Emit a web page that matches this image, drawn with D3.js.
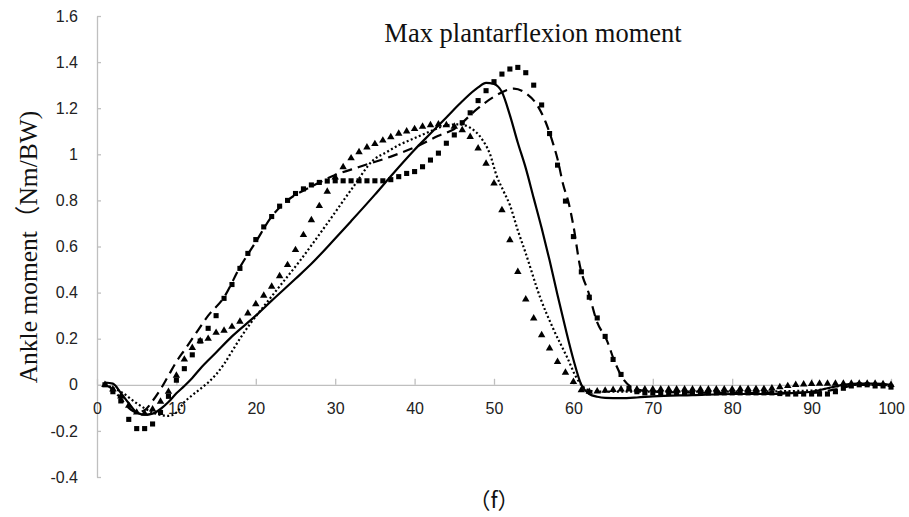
<!DOCTYPE html>
<html>
<head>
<meta charset="utf-8">
<script src="https://cdn.jsdelivr.net/npm/d3@7"></script>
<style>
  html, body { margin: 0; padding: 0; background: #fff; }
  svg { display: block; }
</style>
</head>
<body>
<svg id="chart" width="909" height="517"></svg>
<script>
// ---------- data ----------
const titleText = "Max plantarflexion moment";
const yTitle = "Ankle moment（Nm/BW)";
const panelLabel = "（f）";
const xTicks = [0, 10, 20, 30, 40, 50, 60, 70, 80, 90, 100];
const yTicks = [-0.4, -0.2, 0, 0.2, 0.4, 0.6, 0.8, 1, 1.2, 1.4, 1.6];

// solid line
const solidX = [1,2,3,4,5,6,7,8,9,10,11,12,13,15,17,20,22,25,27,30,32,35,37,40,42,44,46,48,49,50,51,52,53,54,55,56,57,58,59,60,61,62,63,64,66,68,70,75,80,85,88,90,92,94,96,98,100];
const solidY = [0.01,0.005,-0.035,-0.08,-0.12,-0.13,-0.125,-0.105,-0.075,-0.037,-0.005,0.03,0.07,0.14,0.21,0.30,0.365,0.46,0.525,0.635,0.71,0.825,0.905,1.02,1.09,1.16,1.23,1.29,1.31,1.305,1.27,1.17,1.05,0.94,0.81,0.68,0.54,0.39,0.245,0.11,0.0,-0.04,-0.052,-0.057,-0.058,-0.055,-0.05,-0.045,-0.04,-0.04,-0.035,-0.03,-0.015,0.0,0.005,0.005,0.0];

// dashed line
const dashX = [1,2,3,4,5,6,7,8,9,10,11,12,14,16,18,20,22,24,27,30,33,37,40,43,45,48,50,52.5,54,55.5,56.5,57.5,58,58.7,59.4,60,60.8,62,62.9,64.2,65.2,66.1,67.2,68,70,80,90,93,96,100];
const dashY = [0,-0.02,-0.06,-0.1,-0.12,-0.11,-0.07,-0.02,0.04,0.10,0.15,0.20,0.30,0.38,0.51,0.62,0.73,0.80,0.86,0.91,0.945,0.99,1.03,1.08,1.11,1.20,1.25,1.285,1.265,1.21,1.14,1.04,0.98,0.87,0.79,0.69,0.52,0.39,0.28,0.194,0.10,0.035,-0.008,-0.02,-0.03,-0.035,-0.035,-0.02,0,0];

// dotted line
const dotX = [1,3,5,7,9,10,11,12,13,14,15,16,17,18,19.3,21,22.6,25.6,29,32.3,34.8,36.5,38,40,42,44,45.5,47,48.4,49.5,50.3,51.2,52,53,54,55.8,57.5,59.2,60.4,61.7,63,70,80,90,95,100];
const dotY = [0,-0.03,-0.08,-0.12,-0.135,-0.12,-0.075,-0.045,-0.018,0.01,0.045,0.09,0.145,0.2,0.265,0.34,0.41,0.54,0.70,0.86,0.975,1.01,1.04,1.07,1.10,1.125,1.13,1.115,1.07,1.0,0.91,0.84,0.78,0.67,0.57,0.38,0.24,0.12,0.03,-0.02,-0.03,-0.03,-0.03,-0.025,0,0];

// square markers, x = 1..100
const squareY = [0.00,-0.03,-0.07,-0.15,-0.19,-0.19,-0.17,-0.12,-0.05,0.02,
  0.07,0.13,0.19,0.245,0.30,0.375,0.435,0.505,0.57,0.63,
  0.685,0.73,0.775,0.80,0.83,0.85,0.867,0.878,0.884,0.885,
  0.885,0.885,0.885,0.885,0.885,0.885,0.89,0.903,0.917,0.925,
  0.946,0.975,1.005,1.048,1.084,1.137,1.18,1.233,1.276,1.315,
  1.348,1.37,1.377,1.354,1.30,1.214,1.09,0.953,0.797,0.643,
  0.49,0.38,0.29,0.21,0.11,0.045,-0.015,-0.03,-0.035,-0.035,
  -0.035,-0.035,-0.035,-0.035,-0.035,-0.035,-0.035,-0.035,-0.035,-0.035,
  -0.035,-0.035,-0.035,-0.035,-0.035,-0.038,-0.04,-0.04,-0.04,-0.04,
  -0.04,-0.04,-0.03,-0.015,-0.005,0,0,-0.005,-0.005,-0.01];

// triangle markers, x = 1..100
const triangleY = [0.00,-0.02,-0.05,-0.09,-0.12,-0.125,-0.106,-0.073,-0.03,0.04,
  0.11,0.16,0.19,0.20,0.226,0.235,0.252,0.274,0.31,0.35,
  0.387,0.426,0.472,0.52,0.585,0.65,0.715,0.776,0.838,0.90,
  0.945,0.983,1.01,1.03,1.045,1.06,1.075,1.09,1.10,1.11,
  1.12,1.127,1.13,1.127,1.12,1.105,1.076,1.026,0.96,0.874,
  0.758,0.628,0.49,0.371,0.288,0.216,0.158,0.10,0.053,0.013,
  -0.023,-0.03,-0.028,-0.025,-0.022,-0.02,-0.02,-0.02,-0.02,-0.02,
  -0.02,-0.02,-0.02,-0.02,-0.02,-0.02,-0.02,-0.02,-0.02,-0.02,
  -0.018,-0.018,-0.018,-0.018,-0.015,-0.01,-0.005,0,0.002,0.004,
  0.005,0.005,0.005,0.005,0.005,0.005,0.005,0.005,0.003,0];

// ---------- drawing ----------
const svg = d3.select("#chart");
const x = d3.scaleLinear().domain([0, 100]).range([97, 891]);
const y = d3.scaleLinear().domain([-0.4, 1.6]).range([477, 16]);
const axisColor = "#bfbfbf";
const tickFont = "'Liberation Sans Narrow', 'Arial Narrow', 'Liberation Sans', sans-serif";
const fmt = d => String(+d.toFixed(1));

// y axis
const gy = svg.append("g").attr("transform", `translate(${x(0)},0)`)
  .call(d3.axisLeft(y).tickValues(yTicks).tickFormat(fmt).tickSizeInner(-4).tickSizeOuter(0).tickPadding(19));
gy.select(".domain").attr("stroke", axisColor).attr("stroke-width", 1.3);
gy.selectAll(".tick line").attr("stroke", axisColor).attr("stroke-width", 1.3);
gy.selectAll(".tick text").attr("font-family", tickFont).attr("font-size", 16).attr("fill", "#222");

// x axis at y = 0
const gx = svg.append("g").attr("transform", `translate(0,${y(0)})`)
  .call(d3.axisBottom(x).tickValues(xTicks).tickFormat(fmt).tickSizeInner(-6).tickSizeOuter(0).tickPadding(18));
gx.select(".domain").attr("stroke", axisColor).attr("stroke-width", 1.3);
gx.selectAll(".tick line").attr("stroke", axisColor).attr("stroke-width", 1.3);
gx.selectAll(".tick text").attr("font-family", tickFont).attr("font-size", 16).attr("fill", "#222");

// lines
const line = d3.line().curve(d3.curveMonotoneX).x(d => x(d[0])).y(d => y(d[1]));
const series = [
  {xs: solidX, ys: solidY, dash: null, w: 2.2},
  {xs: dashX, ys: dashY, dash: "10,6", w: 2.2},
  {xs: dotX, ys: dotY, dash: "2,2.4", w: 2.2}
];
series.forEach(s => {
  svg.append("path")
    .datum(s.xs.map((v, i) => [v, s.ys[i]]))
    .attr("d", line)
    .attr("fill", "none")
    .attr("stroke", "#000")
    .attr("stroke-width", s.w)
    .attr("stroke-dasharray", s.dash);
});

// markers
const idx = d3.range(1, 101);
svg.append("g").selectAll("path").data(idx).join("path")
  .attr("d", d3.symbol(d3.symbolSquare, 26)())
  .attr("transform", d => `translate(${x(d)},${y(squareY[d - 1])})`)
  .attr("fill", "#000");
svg.append("g").selectAll("path").data(idx).join("path")
  .attr("d", d3.symbol(d3.symbolTriangle, 24)())
  .attr("transform", d => `translate(${x(d)},${y(triangleY[d - 1])})`)
  .attr("fill", "#000");

// title
svg.append("text").attr("x", 533).attr("y", 42).attr("text-anchor", "middle")
  .attr("font-family", "'Liberation Serif', 'Times New Roman', serif").attr("font-size", 26.5)
  .attr("fill", "#111").text(titleText);

// y title
svg.append("text").attr("transform", "translate(37,247) rotate(-90)").attr("text-anchor", "middle")
  .attr("font-family", "'Liberation Serif', 'Noto Sans CJK SC', serif").attr("font-size", 25.5)
  .attr("fill", "#111").text(yTitle);

// panel label
svg.append("text").attr("x", 494).attr("y", 508).attr("text-anchor", "middle")
  .attr("font-family", "'Noto Sans CJK SC', sans-serif").attr("font-size", 22)
  .attr("fill", "#111").text(panelLabel);
</script>
</body>
</html>
